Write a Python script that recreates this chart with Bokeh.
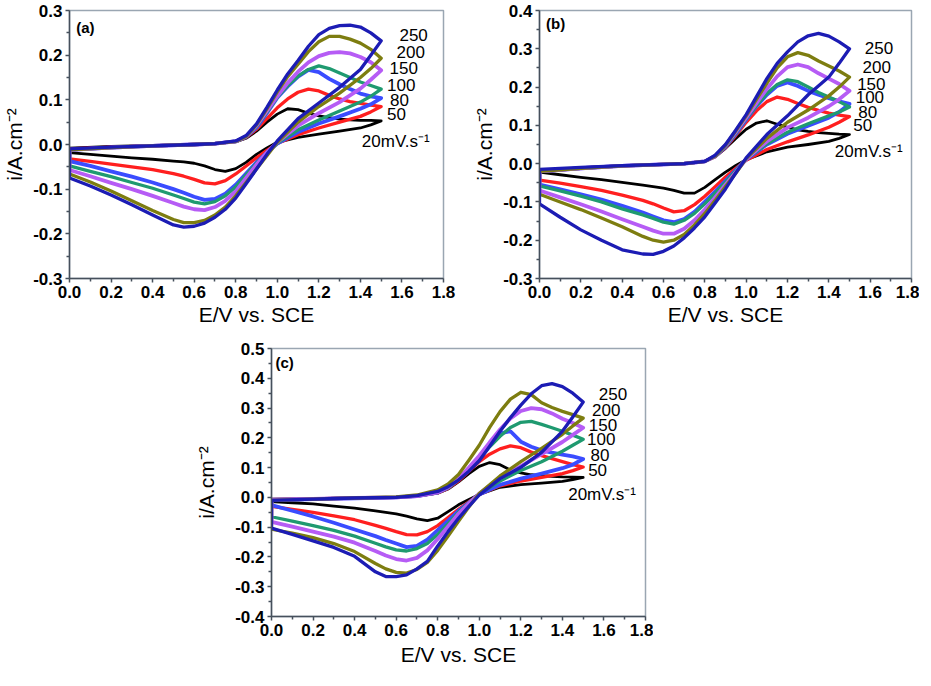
from bokeh.plotting import figure
from bokeh.layouts import column, row
from bokeh.models import FixedTicker, NumeralTickFormatter, Label, Spacer
from bokeh.embed import file_html
from bokeh.resources import INLINE

# ---------------- data ----------------
RATES = [20, 50, 80, 100, 150, 200, 250]
RATE_TEXT = ["20mV.s\u207b\u00b9", "50", "80", "100", "150", "200", "250"]
COLORS = ["#000000", "#ff1f1f", "#3a4cff", "#1f9a70", "#b65cf5", "#7d7d10", "#1c1cb4"]
WIDTHS = [2.8, 3.3, 3.8, 3.3, 3.8, 3.3, 3.3]

# potential grid of the anodic (forward) and cathodic (reverse) sweeps, V vs SCE
E_FWD = [0.0, 0.2, 0.4, 0.6, 0.7, 0.8, 0.85, 0.9, 0.95, 1.0, 1.05, 1.1, 1.15, 1.2, 1.25, 1.3, 1.35, 1.4, 1.45, 1.5]
E_REV = [1.5, 1.45, 1.4, 1.3, 1.2, 1.1, 1.0, 0.95, 0.9, 0.85, 0.8, 0.75, 0.7, 0.65, 0.6, 0.55, 0.5, 0.4, 0.3, 0.2, 0.1, 0.0]

# panel (a) current density, A cm-2
A_FWD = {
    20:  [-0.008, -0.004, -0.002, 0.0, 0.002, 0.006, 0.014, 0.03, 0.05, 0.068, 0.08, 0.078, 0.07, 0.064, 0.06, 0.057, 0.055, 0.054, 0.054, 0.053],
    50:  [-0.01, -0.006, -0.003, 0.0, 0.002, 0.007, 0.016, 0.034, 0.058, 0.082, 0.102, 0.117, 0.124, 0.12, 0.11, 0.102, 0.096, 0.092, 0.088, 0.085],
    80:  [-0.012, -0.007, -0.003, 0.0, 0.002, 0.007, 0.017, 0.038, 0.07, 0.105, 0.13, 0.152, 0.167, 0.162, 0.147, 0.135, 0.124, 0.114, 0.108, 0.104],
    100: [-0.012, -0.007, -0.003, 0.0, 0.002, 0.007, 0.017, 0.04, 0.072, 0.106, 0.132, 0.153, 0.168, 0.176, 0.17, 0.16, 0.15, 0.14, 0.132, 0.124],
    150: [-0.012, -0.007, -0.003, 0.0, 0.002, 0.007, 0.018, 0.042, 0.075, 0.108, 0.138, 0.163, 0.184, 0.198, 0.205, 0.207, 0.204, 0.196, 0.184, 0.166],
    200: [-0.012, -0.007, -0.003, 0.0, 0.002, 0.007, 0.018, 0.044, 0.08, 0.118, 0.152, 0.18, 0.208, 0.23, 0.242, 0.242, 0.236, 0.227, 0.213, 0.193],
    250: [-0.01, -0.006, -0.003, 0.0, 0.002, 0.008, 0.02, 0.046, 0.083, 0.122, 0.158, 0.188, 0.22, 0.246, 0.26, 0.266, 0.267, 0.263, 0.25, 0.232],
}
A_REV = {
    20:  [0.053, 0.044, 0.037, 0.03, 0.023, 0.016, 0.005, -0.008, -0.022, -0.04, -0.054, -0.06, -0.056, -0.048, -0.042, -0.039, -0.037, -0.033, -0.03, -0.026, -0.022, -0.018],
    50:  [0.085, 0.073, 0.063, 0.05, 0.037, 0.022, 0.002, -0.013, -0.03, -0.048, -0.066, -0.081, -0.088, -0.086, -0.078, -0.071, -0.065, -0.056, -0.05, -0.044, -0.038, -0.032],
    80:  [0.104, 0.09, 0.08, 0.063, 0.047, 0.028, 0.002, -0.018, -0.04, -0.065, -0.09, -0.11, -0.122, -0.124, -0.117, -0.108, -0.1, -0.085, -0.072, -0.06, -0.048, -0.037],
    100: [0.124, 0.108, 0.095, 0.075, 0.055, 0.033, 0.003, -0.018, -0.042, -0.068, -0.095, -0.115, -0.128, -0.133, -0.129, -0.121, -0.113, -0.098, -0.085, -0.072, -0.06, -0.048],
    150: [0.166, 0.145, 0.125, 0.095, 0.07, 0.042, 0.005, -0.018, -0.045, -0.075, -0.105, -0.126, -0.14, -0.147, -0.145, -0.139, -0.131, -0.115, -0.1, -0.086, -0.071, -0.057],
    200: [0.193, 0.17, 0.15, 0.115, 0.085, 0.05, 0.005, -0.025, -0.055, -0.085, -0.115, -0.14, -0.158, -0.17, -0.175, -0.175, -0.168, -0.148, -0.126, -0.104, -0.084, -0.066],
    250: [0.232, 0.2, 0.168, 0.128, 0.093, 0.058, 0.008, -0.022, -0.055, -0.088, -0.12, -0.145, -0.163, -0.176, -0.183, -0.185, -0.18, -0.158, -0.135, -0.113, -0.093, -0.075],
}

# panel (b)
B_FWD = {
    20:  [-0.02, -0.012, -0.006, -0.002, 0.0, 0.006, 0.018, 0.04, 0.066, 0.09, 0.106, 0.112, 0.103, 0.095, 0.088, 0.084, 0.081, 0.079, 0.077, 0.076],
    50:  [-0.02, -0.012, -0.006, -0.002, 0.0, 0.006, 0.018, 0.042, 0.074, 0.108, 0.138, 0.162, 0.174, 0.168, 0.157, 0.147, 0.139, 0.132, 0.127, 0.123],
    80:  [-0.02, -0.012, -0.006, -0.002, 0.0, 0.006, 0.019, 0.044, 0.078, 0.115, 0.15, 0.18, 0.203, 0.212, 0.203, 0.19, 0.18, 0.171, 0.163, 0.156],
    100: [-0.02, -0.012, -0.006, -0.002, 0.0, 0.006, 0.019, 0.045, 0.08, 0.117, 0.152, 0.183, 0.207, 0.219, 0.214, 0.2, 0.186, 0.174, 0.162, 0.148],
    150: [-0.02, -0.012, -0.006, -0.002, 0.0, 0.006, 0.02, 0.047, 0.083, 0.12, 0.158, 0.195, 0.228, 0.252, 0.259, 0.252, 0.236, 0.222, 0.208, 0.19],
    200: [-0.02, -0.012, -0.006, -0.002, 0.0, 0.006, 0.02, 0.048, 0.086, 0.125, 0.168, 0.21, 0.25, 0.279, 0.29, 0.283, 0.268, 0.255, 0.242, 0.226],
    250: [-0.015, -0.01, -0.005, -0.002, 0.0, 0.006, 0.022, 0.05, 0.088, 0.128, 0.175, 0.222, 0.262, 0.292, 0.318, 0.334, 0.34, 0.333, 0.318, 0.3],
}
B_REV = {
    20:  [0.076, 0.066, 0.058, 0.05, 0.043, 0.031, 0.01, -0.005, -0.022, -0.042, -0.062, -0.077, -0.077, -0.07, -0.064, -0.06, -0.056, -0.049, -0.042, -0.036, -0.029, -0.022],
    50:  [0.123, 0.108, 0.095, 0.075, 0.057, 0.037, 0.009, -0.012, -0.035, -0.06, -0.085, -0.107, -0.123, -0.126, -0.116, -0.105, -0.096, -0.082, -0.07, -0.06, -0.051, -0.043],
    80:  [0.156, 0.135, 0.12, 0.099, 0.078, 0.05, 0.011, -0.017, -0.045, -0.073, -0.1, -0.126, -0.145, -0.153, -0.148, -0.138, -0.128, -0.11, -0.094, -0.08, -0.067, -0.055],
    100: [0.148, 0.135, 0.125, 0.104, 0.082, 0.052, 0.012, -0.018, -0.048, -0.077, -0.105, -0.13, -0.148, -0.158, -0.153, -0.143, -0.134, -0.118, -0.1, -0.085, -0.071, -0.058],
    150: [0.19, 0.168, 0.15, 0.12, 0.094, 0.058, 0.012, -0.022, -0.055, -0.088, -0.12, -0.148, -0.17, -0.183, -0.183, -0.175, -0.165, -0.145, -0.125, -0.106, -0.088, -0.07],
    200: [0.226, 0.2, 0.177, 0.14, 0.108, 0.066, 0.013, -0.025, -0.06, -0.096, -0.13, -0.16, -0.185, -0.2, -0.205, -0.2, -0.19, -0.165, -0.142, -0.12, -0.1, -0.08],
    250: [0.3, 0.262, 0.226, 0.18, 0.125, 0.076, 0.015, -0.024, -0.066, -0.103, -0.139, -0.168, -0.194, -0.215, -0.229, -0.237, -0.236, -0.225, -0.2, -0.173, -0.14, -0.105],
}

# panel (c)
C_FWD = {
    20:  [-0.006, -0.004, -0.002, 0.0, 0.004, 0.014, 0.028, 0.052, 0.08, 0.104, 0.117, 0.11, 0.092, 0.082, 0.076, 0.073, 0.071, 0.069, 0.068, 0.067],
    50:  [-0.008, -0.005, -0.002, 0.0, 0.004, 0.015, 0.03, 0.055, 0.088, 0.12, 0.145, 0.163, 0.173, 0.167, 0.152, 0.14, 0.13, 0.12, 0.11, 0.102],
    80:  [-0.01, -0.006, -0.003, 0.0, 0.004, 0.016, 0.032, 0.06, 0.095, 0.135, 0.18, 0.215, 0.222, 0.187, 0.17, 0.158, 0.15, 0.144, 0.138, 0.129],
    100: [-0.008, -0.005, -0.002, 0.0, 0.004, 0.016, 0.032, 0.06, 0.095, 0.13, 0.17, 0.205, 0.235, 0.252, 0.255, 0.245, 0.234, 0.222, 0.209, 0.195],
    150: [-0.008, -0.005, -0.002, 0.0, 0.004, 0.017, 0.034, 0.063, 0.1, 0.14, 0.185, 0.228, 0.265, 0.29, 0.3, 0.296, 0.282, 0.264, 0.25, 0.234],
    200: [-0.01, -0.006, -0.002, 0.002, 0.008, 0.025, 0.045, 0.077, 0.125, 0.175, 0.235, 0.288, 0.33, 0.353, 0.345, 0.318, 0.302, 0.289, 0.278, 0.266],
    250: [-0.01, -0.006, -0.002, 0.0, 0.006, 0.02, 0.036, 0.058, 0.088, 0.123, 0.172, 0.222, 0.268, 0.31, 0.348, 0.375, 0.382, 0.372, 0.35, 0.32],
}
C_REV = {
    20:  [0.067, 0.06, 0.054, 0.048, 0.043, 0.034, 0.01, -0.007, -0.025, -0.048, -0.07, -0.078, -0.072, -0.063, -0.055, -0.05, -0.045, -0.036, -0.029, -0.022, -0.018, -0.014],
    50:  [0.102, 0.09, 0.08, 0.067, 0.055, 0.039, 0.01, -0.015, -0.04, -0.068, -0.095, -0.115, -0.126, -0.125, -0.115, -0.104, -0.094, -0.075, -0.062, -0.05, -0.04, -0.03],
    80:  [0.129, 0.11, 0.098, 0.08, 0.063, 0.042, 0.01, -0.018, -0.045, -0.078, -0.11, -0.142, -0.163, -0.167, -0.155, -0.143, -0.13, -0.108, -0.085, -0.064, -0.045, -0.026],
    100: [0.195, 0.175, 0.155, 0.12, 0.09, 0.055, 0.012, -0.018, -0.05, -0.088, -0.125, -0.155, -0.172, -0.18, -0.176, -0.166, -0.154, -0.13, -0.111, -0.095, -0.08, -0.065],
    150: [0.234, 0.21, 0.186, 0.145, 0.105, 0.065, 0.013, -0.02, -0.055, -0.098, -0.14, -0.178, -0.203, -0.212, -0.207, -0.195, -0.18, -0.152, -0.132, -0.115, -0.098, -0.082],
    200: [0.266, 0.24, 0.212, 0.165, 0.12, 0.072, 0.013, -0.032, -0.08, -0.13, -0.178, -0.218, -0.242, -0.254, -0.252, -0.24, -0.222, -0.182, -0.155, -0.135, -0.12, -0.107],
    250: [0.32, 0.27, 0.222, 0.151, 0.101, 0.063, 0.008, -0.03, -0.07, -0.115, -0.163, -0.215, -0.24, -0.26, -0.266, -0.266, -0.25, -0.198, -0.168, -0.146, -0.124, -0.103],
}

X_TICKS = [0.0, 0.2, 0.4, 0.6, 0.8, 1.0, 1.2, 1.4, 1.6, 1.8]
X_MINOR = [0.1, 0.3, 0.5, 0.7, 0.9, 1.1, 1.3, 1.5, 1.7]
A_YTICKS = [-0.3, -0.2, -0.1, 0.0, 0.1, 0.2, 0.3]
B_YTICKS = [-0.3, -0.2, -0.1, 0.0, 0.1, 0.2, 0.3, 0.4]
C_YTICKS = [-0.4, -0.3, -0.2, -0.1, 0.0, 0.1, 0.2, 0.3, 0.4, 0.5]
A_YMINOR = [-0.25, -0.15, -0.05, 0.05, 0.15, 0.25]
B_YMINOR = [-0.25, -0.15, -0.05, 0.05, 0.15, 0.25, 0.35]
C_YMINOR = [-0.35, -0.25, -0.15, -0.05, 0.05, 0.15, 0.25, 0.35, 0.45]

# label anchor positions (data units): rate labels ordered as RATES
A_LAB_X = [1.407, 1.528, 1.543, 1.528, 1.54, 1.574, 1.588]
A_LAB_Y = [0.006, 0.068, 0.100, 0.133, 0.171, 0.207, 0.245]
B_LAB_X = [1.429, 1.518, 1.542, 1.530, 1.537, 1.563, 1.574]
B_LAB_Y = [0.031, 0.101, 0.136, 0.173, 0.207, 0.252, 0.303]
C_LAB_X = [1.428, 1.524, 1.535, 1.519, 1.527, 1.543, 1.575]
C_LAB_Y = [0.011, 0.092, 0.143, 0.195, 0.242, 0.294, 0.347]

FONT = "Liberation Sans"
AXIS_COL = "#46505c"
FRAME_COL = "#9aa6b2"
FRAME_H = 268


def make_panel(tag, tag_xy, y_range, yticks, yminor, fwd, rev, lab_x, lab_y,
               fw, bl, br, bt, bb, ylab_standoff, xlab_standoff):
    p = figure(frame_width=fw, frame_height=FRAME_H, x_range=(0, 1.8), y_range=y_range,
               output_backend="svg", toolbar_location=None,
               min_border_left=bl, min_border_right=br, min_border_top=bt,
               min_border_bottom=bb, background_fill_color="white",
               border_fill_color="white")
    p.xgrid.visible = False
    p.ygrid.visible = False
    p.outline_line_color = FRAME_COL
    p.outline_line_width = 1.5

    p.xaxis.ticker = FixedTicker(ticks=X_TICKS, minor_ticks=X_MINOR)
    p.yaxis.ticker = FixedTicker(ticks=yticks, minor_ticks=yminor)
    for ax in (p.xaxis, p.yaxis):
        ax.formatter = NumeralTickFormatter(format="0.0")
        ax.axis_line_color = AXIS_COL
        ax.axis_line_width = 1.5
        ax.major_tick_line_color = AXIS_COL
        ax.minor_tick_line_color = AXIS_COL
        ax.major_tick_line_width = 1.5
        ax.minor_tick_line_width = 1.5
        ax.major_tick_in = 0
        ax.major_tick_out = 4
        ax.minor_tick_in = 0
        ax.minor_tick_out = 3
        ax.major_label_text_font = FONT
        ax.major_label_text_font_size = "17px"
        ax.major_label_text_font_style = "bold"
        ax.major_label_text_color = "black"
        ax.major_label_standoff = 3
        ax.axis_label_text_font = FONT
        ax.axis_label_text_font_size = "21px"
        ax.axis_label_text_font_style = "normal"
        ax.axis_label_text_color = "black"
    p.xaxis.axis_label = "E/V vs. SCE"
    p.yaxis.axis_label = "i/A.cm\u207b\u00b2"
    p.yaxis.axis_label_standoff = ylab_standoff
    p.xaxis.axis_label_standoff = xlab_standoff

    for k, rate in enumerate(RATES):
        xs = E_FWD + E_REV + E_FWD[:1]
        ys = fwd[rate] + rev[rate] + fwd[rate][:1]
        p.line(xs, ys, line_color=COLORS[k], line_width=WIDTHS[k], line_join="round")

    for k in range(len(RATES)):
        p.add_layout(Label(x=lab_x[k], y=lab_y[k], text=RATE_TEXT[k], text_font=FONT,
                           text_font_size="17px", text_color="black",
                           text_align="left", text_baseline="middle"))
    p.add_layout(Label(x=tag_xy[0], y=tag_xy[1], text=tag, text_font=FONT,
                       text_font_size="15px", text_font_style="bold",
                       text_color="black", text_align="left", text_baseline="middle"))
    return p


pa = make_panel("(a)", (0.032, 0.263), (-0.3, 0.3), A_YTICKS, A_YMINOR, A_FWD, A_REV,
                A_LAB_X, A_LAB_Y, 374, 65, 23, 10, 51, 4, 2)
pb = make_panel("(b)", (0.032, 0.367), (-0.3, 0.4), B_YTICKS, B_YMINOR, B_FWD, B_REV,
                B_LAB_X, B_LAB_Y, 372, 73, 8, 10, 51, 4, 2)
pc = make_panel("(c)", (0.019, 0.454), (-0.4, 0.5), C_YTICKS, C_YMINOR, C_FWD, C_REV,
                C_LAB_X, C_LAB_Y, 374, 81, 8, 19, 52, 14, 4)

layout = column(row(pa, pb), row(Spacer(width=190, height=1), pc))
open("out.html", "w").write(file_html(layout, INLINE))
